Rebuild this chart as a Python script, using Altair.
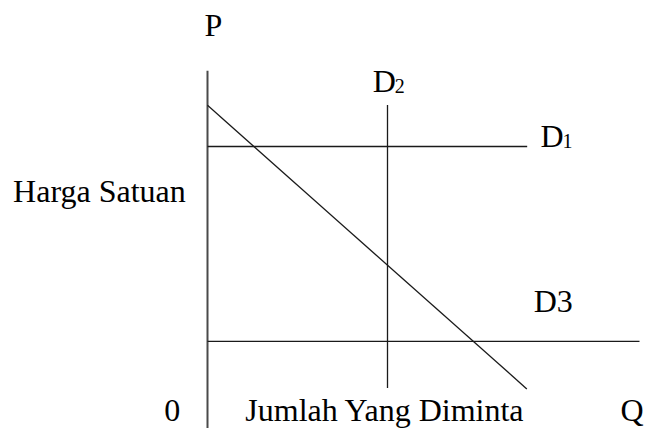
import altair as alt
import pandas as pd

# ---- data (diagram units: Q horizontally, P vertically) ----
seg_names = ["axis", "demand", "D1", "D2", "D3"]
seg_q1 = [0.0, 0.0, 0.0, 5.0, 0.0]
seg_p1 = [9.98, 8.96, 7.75, 0.65, 2.02]
seg_q2 = [0.0, 8.87, 8.88, 5.0, 12.0]
seg_p2 = [-0.7, 0.62, 7.75, 8.97, 2.02]

label_text = ["P", "Harga Satuan", "0", "Jumlah Yang Diminta", "Q", "D", "D", "D3"]
label_q = [-0.08, -5.40, -1.20, 1.05, 11.47, 4.59, 9.25, 9.06]
label_p = [11.01, 6.12, -0.33, -0.33, -0.33, 9.35, 7.75, 2.89]

sub_text = ["2", "1"]
sub_q = [4.59, 9.25]
sub_p = [9.32, 7.72]

# ---- layout ----
VIEW_W, VIEW_H = 645, 428          # drawing coordinates == page pixels
ORIGIN_X, ORIGIN_Y = 207.5, 410.0  # pixel position of (0,0)
KX, KY = 36.0, 34.0                # pixels per unit

x_dom = [-ORIGIN_X / KX, (VIEW_W - ORIGIN_X) / KX]
y_dom = [-(VIEW_H - ORIGIN_Y) / KY, ORIGIN_Y / KY]

xs = alt.Scale(domain=x_dom, nice=False, zero=False)
ys = alt.Scale(domain=y_dom, nice=False, zero=False)

segs = pd.DataFrame({"name": seg_names, "q1": seg_q1, "p1": seg_p1,
                     "q2": seg_q2, "p2": seg_p2})
labels = pd.DataFrame({"t": label_text, "q": label_q, "p": label_p})
subs = pd.DataFrame({"t": sub_text, "q": sub_q, "p": sub_p})

FONT = "Liberation Serif"

axis_line = alt.Chart(segs).transform_filter(alt.datum.name == "axis").mark_rule(
    color="#4a4a4a", strokeWidth=2
).encode(
    x=alt.X("q1:Q", scale=xs, axis=None),
    y=alt.Y("p1:Q", scale=ys, axis=None),
    x2="q2:Q", y2="p2:Q",
)

other_lines = alt.Chart(segs).transform_filter(alt.datum.name != "axis").mark_rule(
    color="#1a1a1a", strokeWidth=1.3
).encode(
    x=alt.X("q1:Q", scale=xs, axis=None),
    y=alt.Y("p1:Q", scale=ys, axis=None),
    x2="q2:Q", y2="p2:Q",
)

text = alt.Chart(labels).mark_text(
    font=FONT, fontSize=32, align="left", baseline="alphabetic", color="black"
).encode(
    x=alt.X("q:Q", scale=xs, axis=None),
    y=alt.Y("p:Q", scale=ys, axis=None),
    text="t:N",
)

subtext = alt.Chart(subs).mark_text(
    font=FONT, fontSize=20, align="left", baseline="alphabetic", color="black", dx=22
).encode(
    x=alt.X("q:Q", scale=xs, axis=None),
    y=alt.Y("p:Q", scale=ys, axis=None),
    text="t:N",
)

chart = alt.layer(axis_line, other_lines, text, subtext).properties(
    width=VIEW_W, height=VIEW_H,
    padding={"left": -8, "top": -8, "right": 0, "bottom": 0},
    autosize=alt.AutoSizeParams(type="none"),
    background="white",
).configure_view(stroke=None, clip=False)

chart.save("out.html", embed_options={"renderer": "svg", "actions": False})
